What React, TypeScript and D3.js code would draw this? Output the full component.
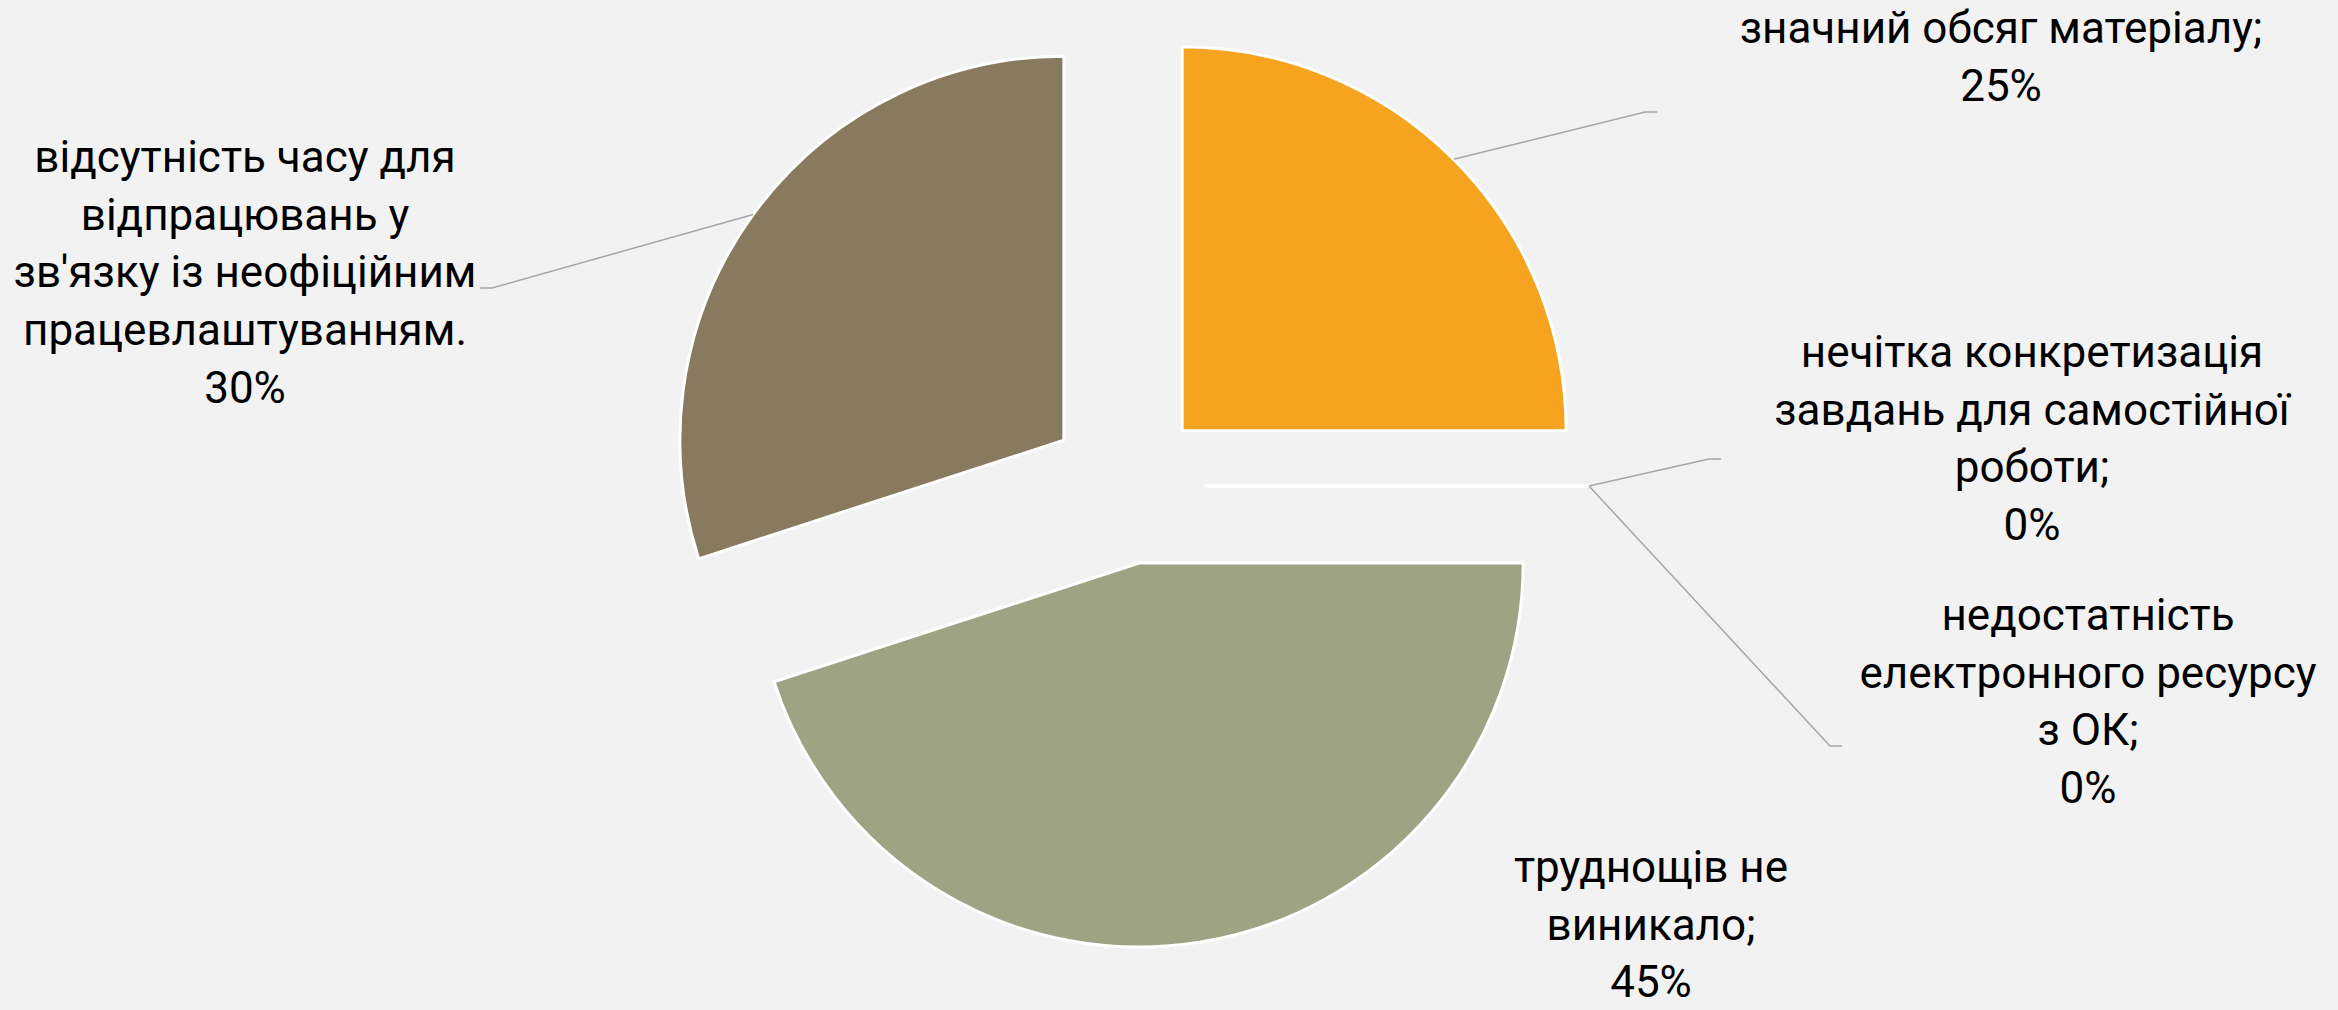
import { useMemo } from 'react';
import * as d3 from 'd3';

const W = 2338, H = 1010;

// Slices in Excel order: clockwise from 12 o'clock.
const CATEGORIES = [
  'значний обсяг матеріалу;',
  'нечітка конкретизація\nзавдань для самостійної\nроботи;',
  'недостатність\nелектронного ресурсу\nз ОК;',
  'труднощів не\nвиникало;',
  "відсутність часу для\nвідпрацювань у\nзв'язку із неофіційним\nпрацевлаштуванням.",
];
const VALUES = [25, 0, 0, 45, 30];
const COLORS = ['#F6A41F', '#4F81BD', '#C0504D', '#9DA383', '#887A5E'];

// Label layout, taken from the slide: text centre / first baseline,
// and the elbow of each leader line (null = no leader).
const LABEL_AT: [number, number][] = [[2001, 43], [2032, 367], [2088, 630], [1651, 882], [245, 172]];
const ELBOW: ([number, number] | null)[] = [[1645, 112], [1709, 459], [1830, 746], null, [492, 288]];

const CX = 1127, CY = 486, R = 384, EXPLODE = 78;
const LINE_H = 57.7;

export default function App() {
  const slices = useMemo(() => d3.pie<number>().sort(null).value(d => d)(VALUES), []);
  const arc = d3.arc<d3.PieArcDatum<number>>().innerRadius(0).outerRadius(R);

  return (
    <svg width={W} height={H} viewBox={`0 0 ${W} ${H}`}
      style={{ position: 'absolute', left: 0, top: 0, display: 'block' }}
      fontFamily="Roboto, 'Noto Sans', sans-serif">
      <rect width={W} height={H} fill="#F2F2F2" />
      <g transform={`translate(${CX},${CY})`}>
        {slices.map((s, i) => {
          const mid = (s.startAngle + s.endAngle) / 2;
          const dx = EXPLODE * Math.sin(mid), dy = -EXPLODE * Math.cos(mid);
          return (
            <path key={i} d={arc(s) ?? ''} transform={`translate(${dx},${dy})`}
              fill={COLORS[i]} stroke="#fff" strokeWidth={3} strokeLinejoin="round" />
          );
        })}
      </g>
      {slices.map((s, i) => {
        const el = ELBOW[i];
        if (!el) return null;
        const mid = (s.startAngle + s.endAngle) / 2;
        const r = R + EXPLODE;
        const x0 = CX + r * Math.sin(mid), y0 = CY - r * Math.cos(mid);
        const dir = el[0] > CX ? 1 : -1;
        return (
          <polyline key={'l' + i} fill="none" stroke="#A6A6A6" strokeWidth={1.5}
            points={`${x0},${y0} ${el[0]},${el[1]} ${el[0] + dir * 12},${el[1]}`} />
        );
      })}
      {slices.map((s, i) => {
        const lines = [...CATEGORIES[i].split('\n'), `${VALUES[i]}%`];
        const [tx, ty] = LABEL_AT[i];
        return (
          <text key={'t' + i} x={tx} y={ty} textAnchor="middle" fontSize={44} fill="#000">
            {lines.map((ln, k) => (
              <tspan key={k} x={tx} y={ty + k * LINE_H}>{ln}</tspan>
            ))}
          </text>
        );
      })}
    </svg>
  );
}
